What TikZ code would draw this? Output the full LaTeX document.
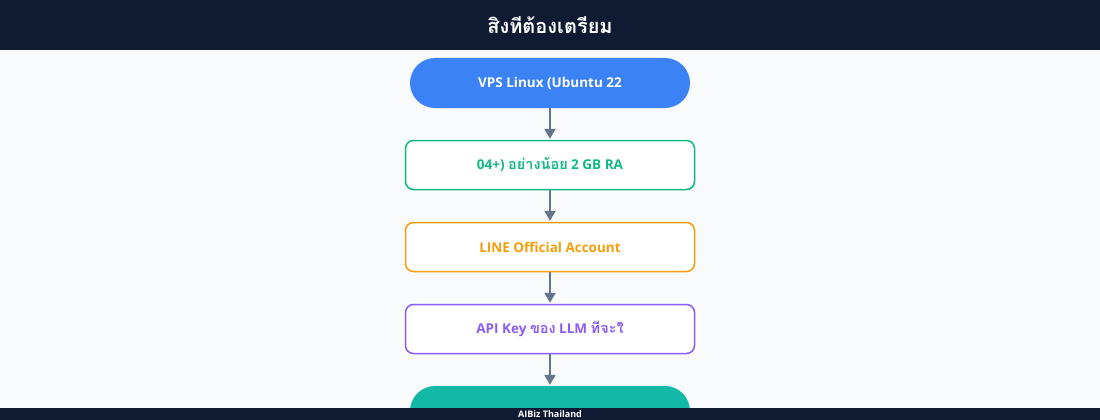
\documentclass[tikz,border=0pt]{standalone}
\usepackage{fontspec}
\setmainfont{Open Sans}
\newfontfamily\thai[Script=Thai]{Loma}
\usetikzlibrary{arrows.meta}
\definecolor{navy}{HTML}{0F1B33}
\definecolor{bgc}{HTML}{F8FAFC}
\definecolor{cblue}{HTML}{3B82F6}
\definecolor{cgreen}{HTML}{10B981}
\definecolor{corange}{HTML}{F59E0B}
\definecolor{cpurple}{HTML}{8B5CF6}
\definecolor{cteal}{HTML}{14B8A6}
\definecolor{cline}{HTML}{64748B}
\tikzset{
  pill/.style={rounded corners=25pt, minimum width=280pt, minimum height=50pt, inner sep=0pt, font=\bfseries\fontsize{13.5}{16}\selectfont, text=white},
  boxnode/.style={draw, line width=1.5pt, fill=white, rounded corners=8pt, minimum width=289pt, minimum height=49pt, inner sep=0pt, font=\bfseries\fontsize{13.5}{16}\selectfont},
  conn/.style={draw=cline, line width=2pt, -{Triangle[length=10pt,width=11pt]}, shorten >=1pt}
}
\begin{document}
\begin{tikzpicture}[x=1pt,y={(0,-1pt)}]
\useasboundingbox (0,0) rectangle (1100,420);
\clip (0,0) rectangle (1100,420);
\fill[bgc] (0,0) rectangle (1100,420);
\fill[navy] (0,0) rectangle (1100,50);
\node[text=white, font=\thai\bfseries\fontsize{20}{24}\selectfont] (title) at (550,25) {สิงทีต้องเตรียม};
\node[pill, fill=cblue] (n1) at (550,83) {VPS Linux (Ubuntu 22};
\node[boxnode, draw=cgreen, text=cgreen] (n2) at (550,165) {04+) {\thai\bfseries\fontsize{14.5}{16}\selectfont อย่างน้อย} 2 GB RA};
\node[boxnode, draw=corange, text=corange] (n3) at (550,247) {LINE Official Account};
\node[boxnode, draw=cpurple, text=cpurple] (n4) at (550,329) {API Key {\thai\bfseries\fontsize{14.5}{16}\selectfont ของ} LLM {\thai\bfseries\fontsize{14.5}{16}\selectfont ทีจะใ}};
\node[pill, fill=cteal] (n5) at (550,411) {};
\draw[conn] (n1) -- (n2);
\draw[conn] (n2) -- (n3);
\draw[conn] (n3) -- (n4);
\draw[conn] (n4) -- (n5);
\fill[navy] (0,408) rectangle (1100,420);
\node[text=white, font=\bfseries\fontsize{9}{10}\selectfont, inner sep=0pt] (footer) at (550,414) {AIBiz Thailand};
\end{tikzpicture}
\end{document}
